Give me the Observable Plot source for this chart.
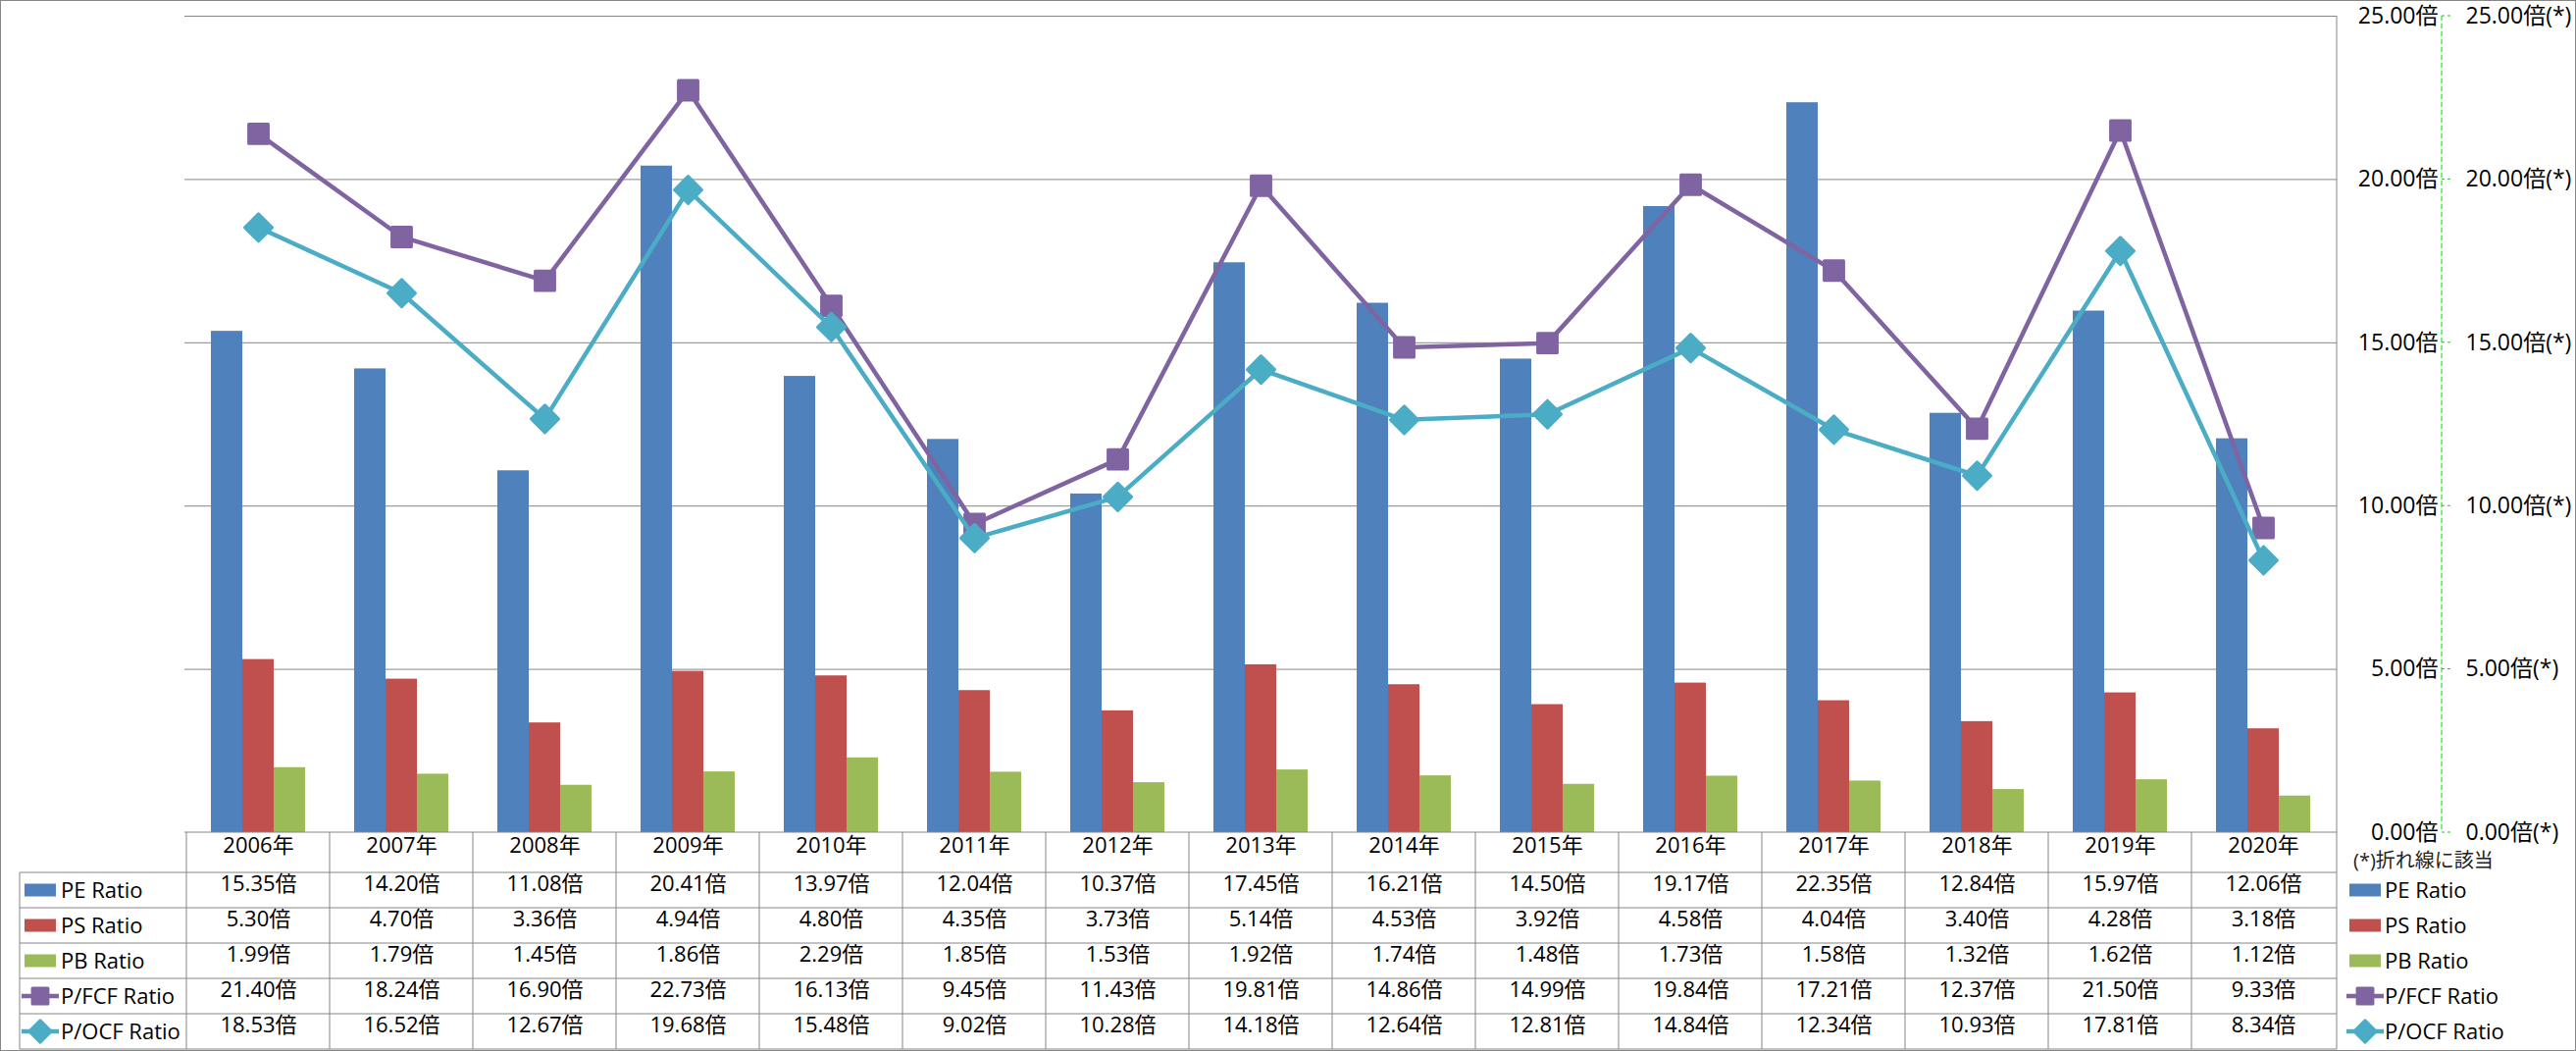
<!DOCTYPE html>
<html>
<head>
<meta charset="utf-8">
<script src="https://cdn.jsdelivr.net/npm/d3@7"></script>
<script src="https://cdn.jsdelivr.net/npm/@observablehq/plot@0.6"></script>
<style>
  html, body { margin: 0; padding: 0; background: #fff; }
  #chart { position: absolute; left: 0; top: 0; }
</style>
</head>
<body>
<div id="chart"></div>
<script>
// ---- data ----
const years = ["2006年","2007年","2008年","2009年","2010年","2011年","2012年","2013年","2014年","2015年","2016年","2017年","2018年","2019年","2020年"];
const peRatio   = [15.35,14.20,11.08,20.41,13.97,12.04,10.37,17.45,16.21,14.50,19.17,22.35,12.84,15.97,12.06];
const psRatio   = [5.30,4.70,3.36,4.94,4.80,4.35,3.73,5.14,4.53,3.92,4.58,4.04,3.40,4.28,3.18];
const pbRatio   = [1.99,1.79,1.45,1.86,2.29,1.85,1.53,1.92,1.74,1.48,1.73,1.58,1.32,1.62,1.12];
const pfcfRatio = [21.40,18.24,16.90,22.73,16.13,9.45,11.43,19.81,14.86,14.99,19.84,17.21,12.37,21.50,9.33];
const pocfRatio = [18.53,16.52,12.67,19.68,15.48,9.02,10.28,14.18,12.64,12.81,14.84,12.34,10.93,17.81,8.34];
const seriesNames  = ["PE Ratio","PS Ratio","PB Ratio","P/FCF Ratio","P/OCF Ratio"];
const seriesKeys   = ["pe","ps","pb","pfcf","pocf"];
const seriesColors = ["#4F81BD","#C0504D","#9BBB59","#8064A2","#4BACC6"];
const yTicks = [0,5,10,15,20,25];
const unit = "倍";
const footnote = "(*)折れ線に該当";

const rows = years.map((year, i) => ({
  year, pe: peRatio[i], ps: psRatio[i], pb: pbRatio[i], pfcf: pfcfRatio[i], pocf: pocfRatio[i]
}));

// ---- layout ----
const W = 2626, H = 1071;
const mL = 188, mR = 244, mT = 16, mB = 223;
const padIn = 0.344;
const step = (W - mL - mR) / years.length;
const bw = step * (1 - padIn);
const third = bw / 3;
const gridColor = "#868686";
const font = "'Open Sans','Noto Sans CJK JP','Noto Sans',sans-serif";
const headerH = 41, rowH = 36;
const fs = 22;

function marker(g, i, cx, cy) {
  const c = seriesColors[i];
  if (i < 3) {
    g.append("rect").attr("x", cx - 16).attr("y", cy - 6.5).attr("width", 32).attr("height", 13).attr("fill", c);
  } else {
    g.append("line").attr("x1", cx - 19).attr("x2", cx + 19).attr("y1", cy).attr("y2", cy)
      .attr("stroke", c).attr("stroke-width", 4.5);
    const sym = i === 3 ? d3.symbol(d3.symbolSquare, 250) : d3.symbol(d3.symbolDiamond2, 320);
    g.append("path").attr("d", sym()).attr("transform", `translate(${cx},${cy})`)
      .attr("fill", c).attr("stroke", c).attr("stroke-width", 3).attr("stroke-linejoin", "round");
  }
}

function tableAndLegend(index, scales, values, dims) {
  const {width, height, marginLeft, marginRight} = dims;
  const x = scales.x, y = scales.y;
  const s = x.step(), b = x.bandwidth();
  const left = marginLeft, right = width - marginRight;
  const top = y(0);
  const labelLeft = 20;
  const rowTop = i => top + headerH + i * rowH;
  const g = d3.create("svg:g");
  const ln = (x1, y1, x2, y2, stroke = gridColor, w = 1, dash = null) => {
    const l = g.append("line").attr("x1", x1).attr("y1", y1).attr("x2", x2).attr("y2", y2)
      .attr("stroke", stroke).attr("stroke-width", w);
    if (dash) l.attr("stroke-dasharray", dash);
  };
  // outer border
  g.append("rect").attr("x", 0.5).attr("y", 0.5).attr("width", width - 1).attr("height", height - 1)
    .attr("fill", "none").attr("stroke", gridColor);
  // table horizontal lines
  ln(left, top, right, top);
  for (let i = 0; i <= seriesNames.length; i++) ln(labelLeft, rowTop(i), right, rowTop(i));
  // table vertical lines
  ln(labelLeft, rowTop(0), labelLeft, rowTop(seriesNames.length));
  years.forEach(yr => {
    const xb = x(yr) - (s - b) / 2;
    ln(xb, top, xb, rowTop(seriesNames.length));
  });
  ln(right, y(yTicks[yTicks.length - 1]), right, rowTop(seriesNames.length));
  // row labels with swatches
  seriesNames.forEach((name, i) => {
    const cy = rowTop(i) + rowH / 2;
    marker(g, i, labelLeft + 21, cy);
    g.append("text").attr("x", labelLeft + 42).attr("y", cy).attr("dy", "0.35em")
      .attr("text-anchor", "start").attr("font-size", fs).attr("fill", "#000").text(name);
  });
  // right legend
  seriesNames.forEach((name, i) => {
    const cy = rowTop(i) + rowH / 2;
    marker(g, i, right + 29, cy);
    g.append("text").attr("x", right + 49).attr("y", cy).attr("dy", "0.35em")
      .attr("text-anchor", "start").attr("font-size", fs).attr("fill", "#000").text(name);
  });
  // footnote
  g.append("text").attr("x", right + 17).attr("y", top + 29).attr("dy", "0.35em")
    .attr("text-anchor", "start").attr("font-size", 20).attr("fill", "#222").text(footnote);
  // secondary (green dashed) axis line
  const gx = right + 107;
  ln(gx, y(yTicks[yTicks.length - 1]), gx, y(0), "#00dd00", 1, "5,3");
  yTicks.forEach(t => ln(gx, y(t), gx + 9, y(t), "#00dd00", 1, "3,3"));
  return g.node();
}

const seriesText = seriesKeys.map((k, i) =>
  Plot.text(rows, {
    x: "year", text: d => d[k].toFixed(2) + unit,
    frameAnchor: "bottom", dy: headerH + i * rowH + rowH / 2,
    fontSize: fs, fill: "#000"
  })
);

const chart = Plot.plot({
  width: W, height: H,
  marginLeft: mL, marginRight: mR, marginTop: mT, marginBottom: mB,
  style: { fontFamily: font, fontSize: fs + "px", background: "#fff", overflow: "visible" },
  x: { domain: years, paddingInner: padIn, paddingOuter: padIn / 2, axis: null },
  y: { domain: [0, 25], axis: null },
  marks: [
    Plot.gridY(yTicks.filter(t => t > 0), { stroke: gridColor, strokeOpacity: 1, strokeWidth: 1 }),
    Plot.barY(rows, { x: "year", y: "pe", fill: seriesColors[0], insetLeft: 0, insetRight: 2 * third }),
    Plot.barY(rows, { x: "year", y: "ps", fill: seriesColors[1], insetLeft: third, insetRight: third }),
    Plot.barY(rows, { x: "year", y: "pb", fill: seriesColors[2], insetLeft: 2 * third, insetRight: 0 }),
    tableAndLegend,
    Plot.line(rows, { x: "year", y: "pfcf", stroke: seriesColors[3], strokeWidth: 4.5 }),
    Plot.dot(rows, { x: "year", y: "pfcf", symbol: "square", r: 11.2, fill: seriesColors[3], stroke: seriesColors[3], strokeWidth: 3, strokeLinejoin: "round" }),
    Plot.line(rows, { x: "year", y: "pocf", stroke: seriesColors[4], strokeWidth: 4.5 }),
    Plot.dot(rows, { x: "year", y: "pocf", symbol: "diamond2", r: 12.6, fill: seriesColors[4], stroke: seriesColors[4], strokeWidth: 3, strokeLinejoin: "round" }),
    Plot.axisY({ anchor: "right", ticks: yTicks, tickSize: 0, tickPadding: 103, textAnchor: "end",
      tickFormat: d => d.toFixed(2) + unit, fontSize: 23, fill: "#000", label: null }),
    Plot.axisY({ anchor: "right", ticks: yTicks, tickSize: 0, tickPadding: 131, textAnchor: "start",
      tickFormat: d => d.toFixed(2) + unit + "(*)", fontSize: 23, fill: "#000", label: null }),
    Plot.text(rows, { x: "year", text: "year", frameAnchor: "bottom", dy: headerH / 2, fontSize: fs, fill: "#000" }),
    ...seriesText
  ]
});
document.getElementById("chart").appendChild(chart);
</script>
</body>
</html>
